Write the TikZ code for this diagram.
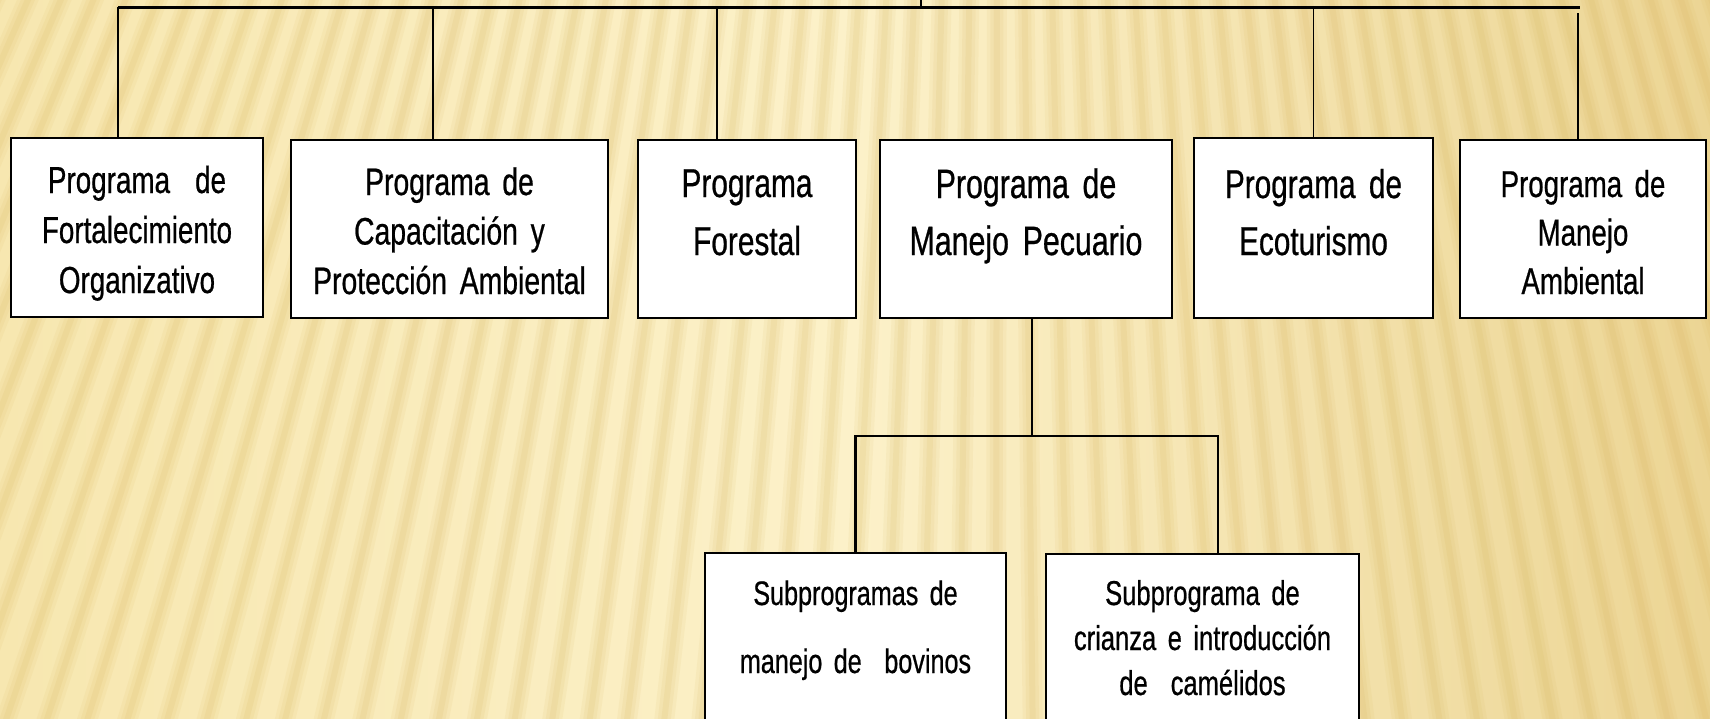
\documentclass[tikz,border=0pt]{standalone}
\usepackage{fontspec}
\setmainfont{Liberation Sans}[FakeStretch=0.74,WordSpace=0.72,FakeBold=0.6]
\definecolor{bgL}{HTML}{F7E7B0}
\definecolor{bgM}{HTML}{FCF1C9}
\definecolor{bgR}{HTML}{ECD594}
\definecolor{stripe}{HTML}{D8B45A}
\begin{document}
\begin{tikzpicture}[x=1pt,y=-1pt,
  box/.style={draw=black,line width=2.4pt,fill=white,inner sep=0pt},
  lbl/.style={anchor=base,align=center,inner sep=0pt,text=black},
  conn/.style={draw=black,line width=1.8pt},
  bus/.style={draw=black,line width=3pt}]
\useasboundingbox (0,0) rectangle (1710,718);
\begin{scope}
\clip (0,0) rectangle (1710,718);
\shade[left color=bgL, right color=bgR, middle color=bgM] (0,0) rectangle (1710,718);
\foreach \a in {62,62.72,...,118}{
  \draw[line width=20pt,draw=stripe,opacity=.09] (1000,-2200) -- ++(\a:3500);
  \draw[line width=13pt,draw=stripe,opacity=.1] (1000,-2200) -- ++(\a:3500);
  \draw[line width=6pt,draw=stripe,opacity=.12] (1000,-2200) -- ++(\a:3500);
}
\end{scope}
% boxes
\node[box,minimum width=252pt,minimum height=179pt] (b1) at (137,227.5) {};
\node[box,minimum width=317pt,minimum height=178pt] (b2) at (449.5,229) {};
\node[box,minimum width=218pt,minimum height=178pt] (b3) at (747,229) {};
\node[box,minimum width=292pt,minimum height=178pt] (b4) at (1026,229) {};
\node[box,minimum width=239pt,minimum height=180pt] (b5) at (1313.5,228) {};
\node[box,minimum width=246pt,minimum height=178pt] (b6) at (1583,229) {};
\node[box,minimum width=301pt,minimum height=177pt] (s1) at (855.5,641.5) {};
\node[box,minimum width=313pt,minimum height=177pt] (s2) at (1202.5,642.5) {};
% texts
\node[lbl,text width=252pt,font=\fontsize{37.6}{50}\selectfont] (t1) at (137,193) {Programa~~de\\Fortalecimiento\\Organizativo};
\node[lbl,text width=317pt,font=\fontsize{38.3}{49.5}\selectfont] (t2) at (449.5,195) {Programa de\\Capacitación y\\Protección Ambiental};
\node[lbl,text width=218pt,font=\fontsize{40.3}{58}\selectfont] (t3) at (747,197) {Programa\\Forestal};
\node[lbl,text width=292pt,font=\fontsize{41}{57}\selectfont] (t4) at (1026,198) {Programa de\\Manejo Pecuario};
\node[lbl,text width=239pt,font=\fontsize{40.2}{57}\selectfont] (t5) at (1313.5,198) {Programa de\\Ecoturismo};
\node[lbl,text width=246pt,font=\fontsize{37.4}{48.5}\selectfont] (t6) at (1583,197) {Programa de\\Manejo\\Ambiental};
\node[lbl,text width=301pt,font=\fontsize{34}{68}\selectfont] (t7) at (855.5,605) {Subprogramas de\\manejo de~~bovinos};
\node[lbl,text width=313pt,font=\fontsize{34.5}{45}\selectfont] (t8) at (1202.5,605) {Subprograma de\\crianza e introducción\\de~~camélidos};
% connectors
\coordinate (top) at (921,-4);
\coordinate (busL) at (118,7);
\coordinate (busR) at (1580,7);
\draw[bus] (busL) -- (busR);
\draw[conn,line width=1.5pt] (top) -- (top |- busL);
\draw[conn] (busL) -- (busL |- b1.north);
\draw[conn] ([xshift=-16.5pt]b2.north) -- ([xshift=-16.5pt]b2.north |- busL);
\draw[conn] ([xshift=-30pt]b3.north) -- ([xshift=-30pt]b3.north |- busL);
\draw[conn] (b5.north) -- (b5.north |- busL);
\draw[conn] ([xshift=-5pt]b6.north) -- ([xshift=-5pt,yshift=-6pt]b6.north |- busL);
\coordinate (split) at (1032,436);
\draw[conn] ([xshift=6pt]b4.south) -- ([xshift=6pt]b4.south |- split);
\draw[conn,line width=2.2pt] (s1.north) |- ([xshift=15.5pt]s2.north |- split) -- ([xshift=15.5pt]s2.north);
\end{tikzpicture}
\end{document}
